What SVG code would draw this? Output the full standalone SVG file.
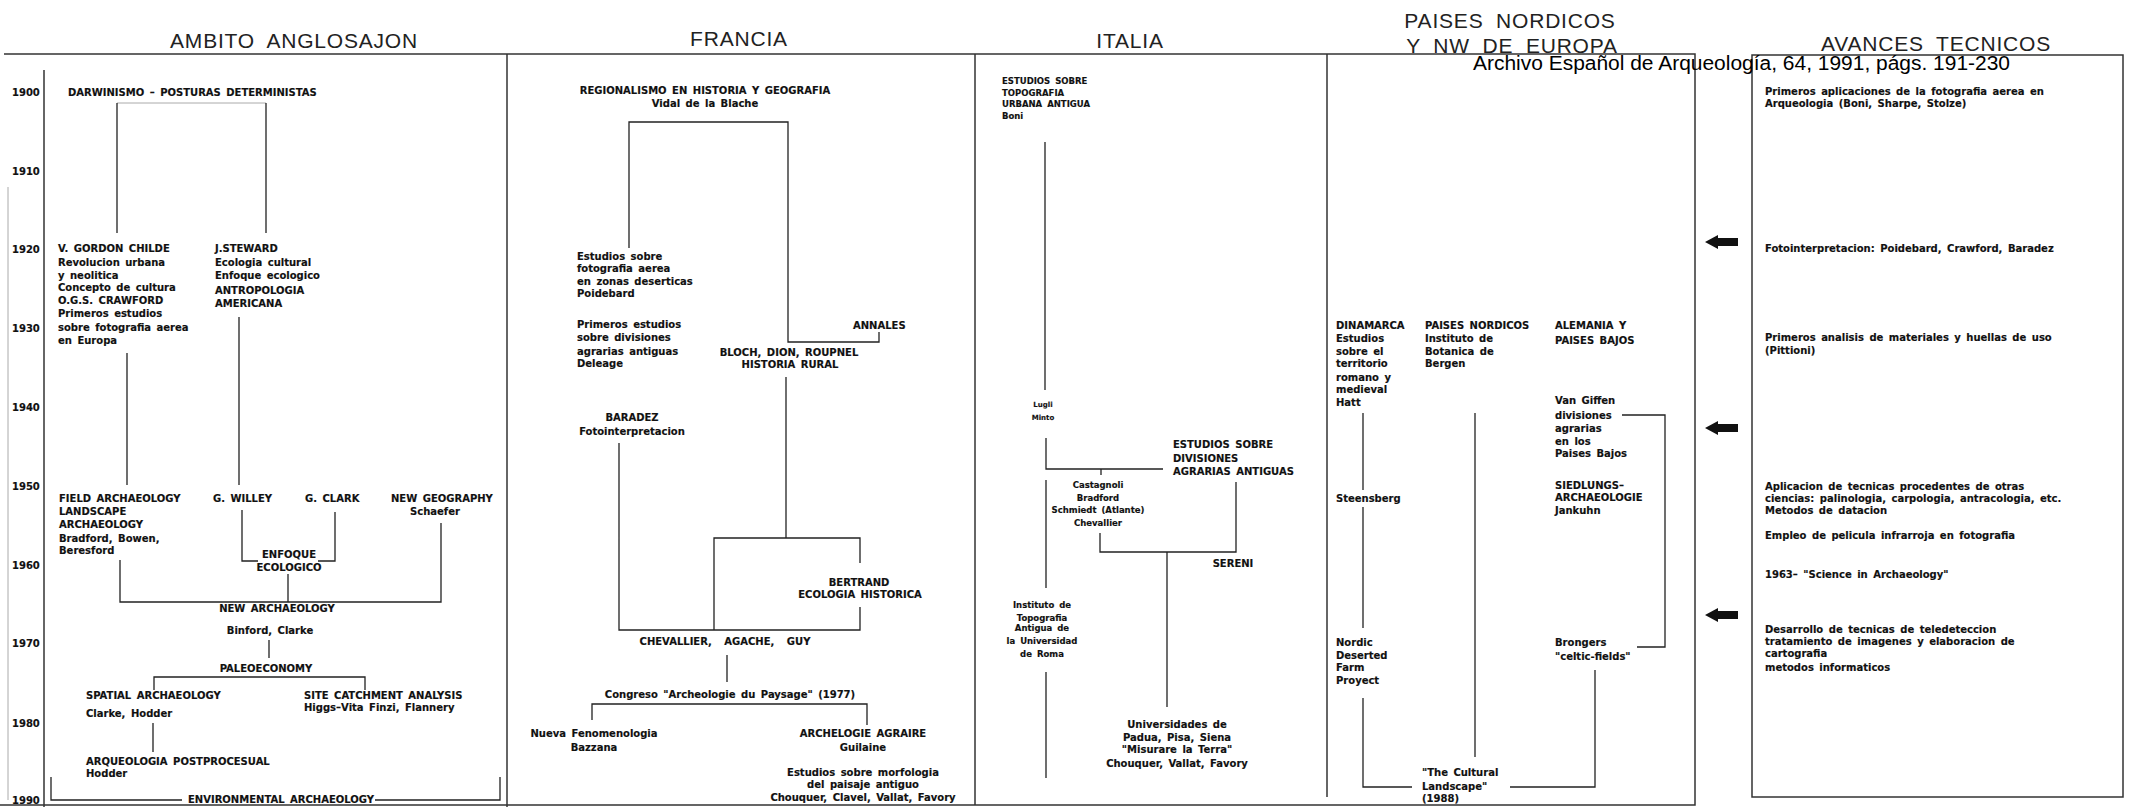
<svg xmlns="http://www.w3.org/2000/svg" width="2134" height="811" viewBox="0 0 2134 811">
<style>
.t{font-family:"DejaVu Sans","Liberation Sans",sans-serif;font-weight:bold;font-size:10px;fill:#111;word-spacing:2px;stroke:#111;stroke-width:0.15}
.s{font-size:8.5px}
.xs{font-size:7px}
.c{text-anchor:middle}
.h{font-family:"Liberation Sans",Arial,sans-serif;font-size:21px;letter-spacing:0.8px;word-spacing:6px;fill:#222}
.ln{stroke:#222;stroke-width:1.3;fill:none}
.fr{stroke:#333;stroke-width:1.5;fill:none}
.fa{stroke:#aaa;stroke-width:1;fill:none}
.cap{font-family:"Liberation Sans",Arial,sans-serif;font-size:20px;fill:#000}
</style>
<defs>
<path id="arr" d="M0,0 L13,-7 L13,-4 L33,-4 L33,4 L13,4 L13,7 Z" fill="#111"/>
</defs>
<rect width="2134" height="811" fill="#fff"/>

<g id="frame">
<path class="fr" d="M4,54 H1695 V805 H0"/>
<path class="fr" d="M44,70 V807"/>
<path class="fa" d="M8,187 V800"/>
<path class="fr" d="M507,54 V807"/>
<path class="fr" d="M975,54 V805"/>
<path class="fr" d="M1327,54 V797"/>
<rect class="fr" x="1752" y="55" width="371" height="742"/>
</g>

<g id="titles">
<text class="h c" x="294" y="48">AMBITO ANGLOSAJON</text>
<text class="h c" x="739" y="46">FRANCIA</text>
<text class="h c" x="1130" y="48">ITALIA</text>
<text class="h c" x="1510" y="28">PAISES NORDICOS</text>
<text class="h c" x="1512" y="53">Y NW DE EUROPA</text>
<text class="h c" x="1936" y="51">AVANCES TECNICOS</text>
<text class="cap" x="1473" y="70" textLength="537" lengthAdjust="spacingAndGlyphs">Archivo Español de Arqueología, 64, 1991, págs. 191-230</text>
</g>

<g id="years" class="t">
<text x="12" y="96">1900</text>
<text x="12" y="175">1910</text>
<text x="12" y="253">1920</text>
<text x="12" y="332">1930</text>
<text x="12" y="411">1940</text>
<text x="12" y="490">1950</text>
<text x="12" y="569">1960</text>
<text x="12" y="647">1970</text>
<text x="12" y="727">1980</text>
<text x="12" y="804">1990</text>
</g>

<g id="connectors">
<path class="fa" d="M117,103 H266"/>
<path class="ln" d="M117,103 V233 M266,103 V233"/>
<path class="ln" d="M127,353 V485 M239,317 V485"/>
<path class="ln" d="M242,510 V561 H258 M335,512 V561 H318"/>
<path class="ln" d="M288,574 V602 M120,560 V602 H441 V523"/>
<path class="ln" d="M269,640 V658 M154,690 V677 H365 V690 M153,723 V752"/>
<path class="ln" d="M51,777 V800 H182 M375,800 H500 V777"/>
<path class="ln" d="M629,248 V122 H788 V342 H879 V332"/>
<path class="ln" d="M786,377 V538"/>
<path class="ln" d="M619,443 V630 H860 V607 M860,563 V538 H714 V630"/>
<path class="ln" d="M727,655 V682 M592,720 V704 H867 V725"/>
<path class="ln" d="M1045,142 V390 M1046,438 V469 H1163 M1101,469 V475"/>
<path class="ln" d="M1100,533 V552 H1236 V482 M1167,552 V707"/>
<path class="ln" d="M1046,480 V588 M1046,672 V778"/>
<path class="ln" d="M1622,415 H1665 V647 H1637"/>
<path class="ln" d="M1363,413 V490 M1363,507 V628 M1363,698 V787 H1412"/>
<path class="ln" d="M1475,413 V757 M1510,787 H1595 V670"/>
<use href="#arr" x="1705" y="242"/>
<use href="#arr" x="1705" y="428"/>
<use href="#arr" x="1705" y="615"/>
</g>

<g id="n-darwinismo" class="t"><text x="68" y="96">DARWINISMO – POSTURAS DETERMINISTAS</text></g>
<g id="n-childe" class="t">
<text x="58" y="252">V. GORDON CHILDE</text>
<text x="58" y="266">Revolucion urbana</text>
<text x="58" y="279">y neolitica</text>
<text x="58" y="291">Concepto de cultura</text>
<text x="58" y="304">O.G.S. CRAWFORD</text>
<text x="58" y="317">Primeros estudios</text>
<text x="58" y="331">sobre fotografia aerea</text>
<text x="58" y="344">en Europa</text>
</g>
<g id="n-steward" class="t">
<text x="215" y="252">J.STEWARD</text>
<text x="215" y="266">Ecologia cultural</text>
<text x="215" y="279">Enfoque ecologico</text>
<text x="215" y="294">ANTROPOLOGIA</text>
<text x="215" y="307">AMERICANA</text>
</g>
<g id="n-field" class="t">
<text x="59" y="502">FIELD ARCHAEOLOGY</text>
<text x="59" y="515">LANDSCAPE</text>
<text x="59" y="528">ARCHAEOLOGY</text>
<text x="59" y="542">Bradford, Bowen,</text>
<text x="59" y="554">Beresford</text>
</g>
<g id="n-willey" class="t"><text x="213" y="502">G. WILLEY</text></g>
<g id="n-clark" class="t"><text x="305" y="502">G. CLARK</text></g>
<g id="n-newgeo" class="t"><text x="391" y="502">NEW GEOGRAPHY</text><text class="c" x="435" y="515">Schaefer</text></g>
<g id="n-enfoque" class="t c"><text x="289" y="558">ENFOQUE</text><text x="289" y="571">ECOLOGICO</text></g>
<g id="n-newarch" class="t c"><text x="277" y="612">NEW ARCHAEOLOGY</text><text x="270" y="634">Binford, Clarke</text></g>
<g id="n-paleo" class="t c"><text x="266" y="672">PALEOECONOMY</text></g>
<g id="n-spatial" class="t"><text x="86" y="699">SPATIAL ARCHAEOLOGY</text><text x="86" y="717">Clarke, Hodder</text></g>
<g id="n-site" class="t"><text x="304" y="699">SITE CATCHMENT ANALYSIS</text><text x="304" y="711">Higgs–Vita Finzi, Flannery</text></g>
<g id="n-postproc" class="t"><text x="86" y="765">ARQUEOLOGIA POSTPROCESUAL</text><text x="86" y="777">Hodder</text></g>
<g id="n-environ" class="t"><text x="188" y="803">ENVIRONMENTAL ARCHAEOLOGY</text></g>

<g id="n-regional" class="t c"><text x="705" y="94">REGIONALISMO EN HISTORIA Y GEOGRAFIA</text><text x="705" y="107">Vidal de la Blache</text></g>
<g id="n-poidebard" class="t">
<text x="577" y="260">Estudios sobre</text>
<text x="577" y="272">fotografia aerea</text>
<text x="577" y="285">en zonas deserticas</text>
<text x="577" y="297">Poidebard</text>
</g>
<g id="n-deleage" class="t">
<text x="577" y="328">Primeros estudios</text>
<text x="577" y="341">sobre divisiones</text>
<text x="577" y="355">agrarias antiguas</text>
<text x="577" y="367">Deleage</text>
</g>
<g id="n-annales" class="t"><text x="853" y="329">ANNALES</text></g>
<g id="n-bloch" class="t c"><text x="789" y="356">BLOCH, DION, ROUPNEL</text><text x="790" y="368">HISTORIA RURAL</text></g>
<g id="n-baradez" class="t c"><text x="632" y="421">BARADEZ</text><text x="632" y="435">Fotointerpretacion</text></g>
<g id="n-bertrand" class="t c"><text x="859" y="586">BERTRAND</text><text x="860" y="598">ECOLOGIA HISTORICA</text></g>
<g id="n-chevallier" class="t c"><text x="725" y="645" style="word-spacing:9px">CHEVALLIER, AGACHE, GUY</text></g>
<g id="n-congreso" class="t c"><text x="730" y="698">Congreso "Archeologie du Paysage" (1977)</text></g>
<g id="n-nueva" class="t c"><text x="594" y="737">Nueva Fenomenologia</text><text x="594" y="751">Bazzana</text></g>
<g id="n-agraire" class="t c"><text x="863" y="737">ARCHELOGIE AGRAIRE</text><text x="863" y="751">Guilaine</text></g>
<g id="n-morfologia" class="t c">
<text x="863" y="776">Estudios sobre morfologia</text>
<text x="863" y="788">del paisaje antiguo</text>
<text x="863" y="801">Chouquer, Clavel, Vallat, Favory</text>
</g>

<g id="n-boni" class="t s">
<text x="1002" y="84">ESTUDIOS SOBRE</text>
<text x="1002" y="96">TOPOGRAFIA</text>
<text x="1002" y="107">URBANA ANTIGUA</text>
<text x="1002" y="119">Boni</text>
</g>
<g id="n-lugli" class="t xs c"><text x="1043" y="407">Lugli</text><text x="1043" y="420">Minto</text></g>
<g id="n-divisiones" class="t">
<text x="1173" y="448">ESTUDIOS SOBRE</text>
<text x="1173" y="462">DIVISIONES</text>
<text x="1173" y="475">AGRARIAS ANTIGUAS</text>
</g>
<g id="n-castagnoli" class="t s c">
<text x="1098" y="488">Castagnoli</text>
<text x="1098" y="501">Bradford</text>
<text x="1098" y="513">Schmiedt (Atlante)</text>
<text x="1098" y="526">Chevallier</text>
</g>
<g id="n-sereni" class="t c"><text x="1233" y="567">SERENI</text></g>
<g id="n-instituto" class="t s c">
<text x="1042" y="608">Instituto de</text>
<text x="1042" y="621">Topografia</text>
<text x="1042" y="631">Antigua de</text>
<text x="1042" y="644">la Universidad</text>
<text x="1042" y="657">de Roma</text>
</g>
<g id="n-universidades" class="t c">
<text x="1177" y="728">Universidades de</text>
<text x="1177" y="741">Padua, Pisa, Siena</text>
<text x="1177" y="753">"Misurare la Terra"</text>
<text x="1177" y="767">Chouquer, Vallat, Favory</text>
</g>

<g id="n-dinamarca" class="t">
<text x="1336" y="329">DINAMARCA</text>
<text x="1336" y="342">Estudios</text>
<text x="1336" y="355">sobre el</text>
<text x="1336" y="367">territorio</text>
<text x="1336" y="381">romano y</text>
<text x="1336" y="393">medieval</text>
<text x="1336" y="406">Hatt</text>
</g>
<g id="n-nordicos" class="t">
<text x="1425" y="329">PAISES NORDICOS</text>
<text x="1425" y="342">Instituto de</text>
<text x="1425" y="355">Botanica de</text>
<text x="1425" y="367">Bergen</text>
</g>
<g id="n-alemania" class="t"><text x="1555" y="329">ALEMANIA Y</text><text x="1555" y="344">PAISES BAJOS</text></g>
<g id="n-giffen" class="t">
<text x="1555" y="404">Van Giffen</text>
<text x="1555" y="419">divisiones</text>
<text x="1555" y="432">agrarias</text>
<text x="1555" y="445">en los</text>
<text x="1555" y="457">Paises Bajos</text>
</g>
<g id="n-siedlungs" class="t">
<text x="1555" y="489">SIEDLUNGS–</text>
<text x="1555" y="501">ARCHAEOLOGIE</text>
<text x="1555" y="514">Jankuhn</text>
</g>
<g id="n-steensberg" class="t"><text x="1336" y="502">Steensberg</text></g>
<g id="n-nordic" class="t">
<text x="1336" y="646">Nordic</text>
<text x="1336" y="659">Deserted</text>
<text x="1336" y="671">Farm</text>
<text x="1336" y="684">Proyect</text>
</g>
<g id="n-brongers" class="t"><text x="1555" y="646">Brongers</text><text x="1555" y="660">"celtic-fields"</text></g>
<g id="n-cultural" class="t">
<text x="1422" y="776">"The Cultural</text>
<text x="1422" y="790">Landscape"</text>
<text x="1422" y="802">(1988)</text>
</g>

<g id="n-avances" class="t">
<text x="1765" y="95">Primeros aplicaciones de la fotografia aerea en</text>
<text x="1765" y="107">Arqueologia (Boni, Sharpe, Stolze)</text>
<text x="1765" y="252">Fotointerpretacion: Poidebard, Crawford, Baradez</text>
<text x="1765" y="341">Primeros analisis de materiales y huellas de uso</text>
<text x="1765" y="354">(Pittioni)</text>
<text x="1765" y="490">Aplicacion de tecnicas procedentes de otras</text>
<text x="1765" y="502">ciencias: palinologia, carpologia, antracologia, etc.</text>
<text x="1765" y="514">Metodos de datacion</text>
<text x="1765" y="539">Empleo de pelicula infrarroja en fotografia</text>
<text x="1765" y="578">1963– "Science in Archaeology"</text>
<text x="1765" y="633">Desarrollo de tecnicas de teledeteccion</text>
<text x="1765" y="645">tratamiento de imagenes y elaboracion de</text>
<text x="1765" y="657">cartografia</text>
<text x="1765" y="671">metodos informaticos</text>
</g>
</svg>
